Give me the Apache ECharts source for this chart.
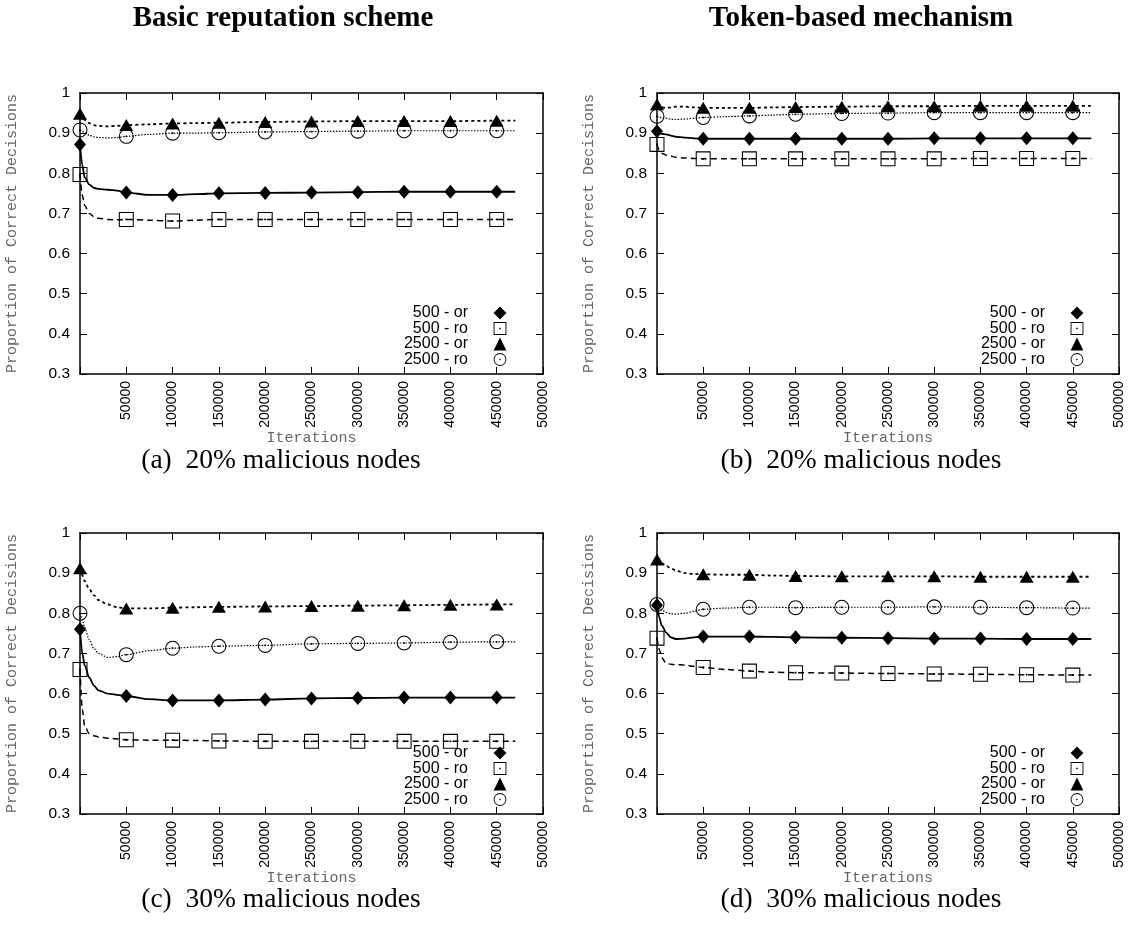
<!DOCTYPE html>
<html>
<head>
<meta charset="utf-8">
<script src="https://cdn.jsdelivr.net/npm/echarts@6.0.0/dist/echarts.min.js"></script>
<style>
  html, body { margin: 0; padding: 0; background: #fff; }
  #chart { width: 1132px; height: 942px; }
</style>
</head>
<body>
<div id="chart"></div>
<script>
// Iteration counts at which each curve was sampled
const iterations = [0, 2500, 5000, 10000, 15000, 20000, 30000, 40000, 50000, 75000,
  100000, 125000, 150000, 200000, 250000, 300000, 350000, 400000, 450000, 470000];

const seriesNames = ['500 - or', '500 - ro', '2500 - or', '2500 - ro'];
const xTicks = [0, 50000, 100000, 150000, 200000, 250000, 300000, 350000, 400000, 450000, 500000];
const yTicks = [0.3, 0.4, 0.5, 0.6, 0.7, 0.8, 0.9, 1];

// (a) Basic reputation scheme, 20% malicious nodes
const basic20_or500  = [0.872, 0.820, 0.790, 0.772, 0.764, 0.761, 0.759, 0.757, 0.752, 0.746, 0.746, 0.748, 0.750, 0.751, 0.752, 0.753, 0.754, 0.754, 0.754, 0.754];
const basic20_ro500  = [0.797, 0.745, 0.720, 0.700, 0.692, 0.688, 0.685, 0.684, 0.685, 0.683, 0.681, 0.683, 0.685, 0.685, 0.685, 0.685, 0.685, 0.685, 0.685, 0.685];
const basic20_or2500 = [0.948, 0.940, 0.933, 0.925, 0.920, 0.918, 0.917, 0.918, 0.920, 0.922, 0.924, 0.925, 0.926, 0.928, 0.929, 0.930, 0.930, 0.930, 0.931, 0.931];
const basic20_ro2500 = [0.908, 0.905, 0.900, 0.895, 0.891, 0.889, 0.888, 0.889, 0.892, 0.897, 0.900, 0.900, 0.901, 0.903, 0.904, 0.905, 0.906, 0.906, 0.906, 0.906];

// (b) Token-based mechanism, 20% malicious nodes
const token20_or500  = [0.905, 0.899, 0.898, 0.897, 0.894, 0.891, 0.889, 0.887, 0.886, 0.886, 0.886, 0.886, 0.886, 0.886, 0.886, 0.887, 0.887, 0.887, 0.887, 0.887];
const token20_ro500  = [0.872, 0.858, 0.850, 0.845, 0.843, 0.840, 0.838, 0.837, 0.836, 0.836, 0.836, 0.836, 0.836, 0.836, 0.836, 0.836, 0.837, 0.837, 0.837, 0.837];
const token20_or2500 = [0.972, 0.967, 0.964, 0.963, 0.964, 0.966, 0.966, 0.964, 0.963, 0.963, 0.963, 0.964, 0.965, 0.966, 0.967, 0.967, 0.968, 0.968, 0.968, 0.968];
const token20_ro2500 = [0.942, 0.940, 0.938, 0.937, 0.935, 0.934, 0.935, 0.937, 0.939, 0.941, 0.943, 0.945, 0.947, 0.949, 0.950, 0.951, 0.951, 0.951, 0.951, 0.951];

// (c) Basic reputation scheme, 30% malicious nodes
const basic30_or500  = [0.760, 0.700, 0.670, 0.640, 0.620, 0.608, 0.600, 0.597, 0.594, 0.586, 0.583, 0.583, 0.583, 0.585, 0.588, 0.589, 0.590, 0.590, 0.590, 0.590];
const basic30_ro500  = [0.660, 0.560, 0.520, 0.500, 0.495, 0.492, 0.489, 0.487, 0.485, 0.484, 0.484, 0.483, 0.482, 0.481, 0.481, 0.481, 0.481, 0.481, 0.481, 0.481];
const basic30_or2500 = [0.912, 0.895, 0.880, 0.860, 0.845, 0.833, 0.822, 0.815, 0.812, 0.812, 0.814, 0.815, 0.816, 0.817, 0.818, 0.819, 0.820, 0.821, 0.822, 0.822];
const basic30_ro2500 = [0.800, 0.785, 0.765, 0.735, 0.712, 0.700, 0.690, 0.692, 0.697, 0.707, 0.713, 0.716, 0.718, 0.720, 0.724, 0.725, 0.726, 0.728, 0.729, 0.729];

// (d) Token-based mechanism, 30% malicious nodes
const token30_or500  = [0.820, 0.790, 0.770, 0.752, 0.740, 0.736, 0.737, 0.740, 0.742, 0.742, 0.742, 0.741, 0.740, 0.739, 0.738, 0.737, 0.737, 0.736, 0.736, 0.736];
const token30_ro500  = [0.738, 0.710, 0.690, 0.675, 0.673, 0.672, 0.671, 0.668, 0.665, 0.660, 0.656, 0.653, 0.652, 0.651, 0.650, 0.649, 0.648, 0.647, 0.646, 0.646];
const token30_or2500 = [0.934, 0.930, 0.925, 0.918, 0.912, 0.907, 0.900, 0.898, 0.897, 0.896, 0.896, 0.894, 0.893, 0.892, 0.892, 0.892, 0.891, 0.891, 0.891, 0.891];
const token30_ro2500 = [0.822, 0.815, 0.808, 0.802, 0.799, 0.798, 0.800, 0.805, 0.810, 0.813, 0.815, 0.815, 0.814, 0.815, 0.815, 0.816, 0.815, 0.814, 0.813, 0.813];

// Open markers: outline with a hole and a centre dot (nonzero winding)
const OPEN_SQUARE = 'path://M0,0H100V100H0Z M7,7V93H93V7Z M44,44H56V56H44Z';
const OPEN_CIRCLE = 'path://M50,0A50,50,0,1,1,50,100A50,50,0,1,1,50,0Z M50,7A43,43,0,1,0,50,93A43,43,0,1,0,50,7Z M50,44A6,6,0,1,1,50,56A6,6,0,1,1,50,44Z';

const curveStyles = {
  '500 - or':  { symbol: 'diamond',  symbolSize: [12, 14], lineType: 'solid',  lineWidth: 1.8 },
  '500 - ro':  { symbol: OPEN_SQUARE, symbolSize: 15,      lineType: [6, 4],   lineWidth: 1.5 },
  '2500 - or': { symbol: 'triangle', symbolSize: [14, 12], lineType: [3, 3],   lineWidth: 1.8 },
  '2500 - ro': { symbol: OPEN_CIRCLE, symbolSize: 15,      lineType: [1.5, 1.5], lineWidth: 1.2 }
};

const panels = [
  { grid: { left: 80,  top: 93,  width: 463, height: 281 }, curves: [basic20_or500, basic20_ro500, basic20_or2500, basic20_ro2500], legendRight: 604, legendTop: 305 },
  { grid: { left: 657, top: 93,  width: 462, height: 281 }, curves: [token20_or500, token20_ro500, token20_or2500, token20_ro2500], legendRight: 27,  legendTop: 305 },
  { grid: { left: 80,  top: 533, width: 463, height: 281 }, curves: [basic30_or500, basic30_ro500, basic30_or2500, basic30_ro2500], legendRight: 604, legendTop: 745 },
  { grid: { left: 657, top: 533, width: 462, height: 281 }, curves: [token30_or500, token30_ro500, token30_or2500, token30_ro2500], legendRight: 27,  legendTop: 745 }
];

const headings = [
  { text: 'Basic reputation scheme', x: 283, y: 19 },
  { text: 'Token-based mechanism',  x: 861, y: 19 }
];
const captions = [
  { text: '(a)  20% malicious nodes', x: 281, y: 461 },
  { text: '(b)  20% malicious nodes', x: 861, y: 461 },
  { text: '(c)  30% malicious nodes', x: 281, y: 900 },
  { text: '(d)  30% malicious nodes', x: 861, y: 900 }
];

const SANS = 'Liberation Sans, Arial, sans-serif';
const MONO = 'Liberation Mono, Courier New, monospace';
const SERIF = 'Liberation Serif, Times New Roman, serif';

const frameLine = { show: true, onZero: false, lineStyle: { color: '#000', width: 1.5 } };
const innerTick = { show: true, inside: true, length: 7, lineStyle: { color: '#000', width: 1 } };
const X_MIN = xTicks[0], X_MAX = xTicks[xTicks.length - 1], X_STEP = xTicks[1] - xTicks[0];
const Y_MIN = yTicks[0], Y_MAX = yTicks[yTicks.length - 1], Y_STEP = 0.1;

const option = {
  animation: false,
  backgroundColor: '#fff',
  title: [],
  legend: [],
  grid: [],
  xAxis: [],
  yAxis: [],
  series: []
};

headings.forEach(h => option.title.push({
  text: h.text, left: h.x, top: h.y, padding: 0,
  textAlign: 'center', textVerticalAlign: 'middle',
  textStyle: { fontFamily: SERIF, fontWeight: 'bold', fontSize: 29, color: '#000' }
}));
captions.forEach(c => option.title.push({
  text: c.text, left: c.x, top: c.y, padding: 0,
  textAlign: 'center', textVerticalAlign: 'middle',
  textStyle: { fontFamily: SERIF, fontWeight: 'normal', fontSize: 27.5, color: '#000' }
}));

function pointsWithMarkers(ys) {
  return iterations.map((x, i) => {
    const marked = x % 50000 === 0 && x <= 450000;
    return marked ? [x, ys[i]] : { value: [x, ys[i]], symbol: 'none' };
  });
}

panels.forEach((p, pi) => {
  option.grid.push(Object.assign({ show: false, containLabel: false }, p.grid));

  // bottom axis with labels, top axis as mirror
  option.xAxis.push({
    type: 'value', gridIndex: pi, position: 'bottom',
    min: X_MIN, max: X_MAX, interval: X_STEP,
    axisLine: frameLine, axisTick: innerTick, splitLine: { show: false },
    axisLabel: {
      rotate: 90, margin: 7, color: '#000', fontFamily: SANS, fontSize: 14,
      formatter: v => (v === 0 ? '' : String(v))
    },
    name: 'Iterations', nameLocation: 'middle', nameGap: 57, nameMoveOverlap: false,
    nameTextStyle: { fontFamily: MONO, fontSize: 15, color: '#666' }
  });
  option.xAxis.push({
    type: 'value', gridIndex: pi, position: 'top',
    min: X_MIN, max: X_MAX, interval: X_STEP,
    axisLine: frameLine, axisTick: innerTick, splitLine: { show: false },
    axisLabel: { show: false }
  });

  option.yAxis.push({
    type: 'value', gridIndex: pi, position: 'left',
    min: Y_MIN, max: Y_MAX, interval: Y_STEP,
    axisLine: frameLine, axisTick: innerTick, splitLine: { show: false },
    axisLabel: { margin: 10, color: '#000', fontFamily: SANS, fontSize: 15.5 },
    name: 'Proportion of Correct Decisions', nameLocation: 'middle', nameGap: 60, nameRotate: 90,
    nameMoveOverlap: false,
    nameTextStyle: { fontFamily: MONO, fontSize: 15, color: '#666' }
  });
  option.yAxis.push({
    type: 'value', gridIndex: pi, position: 'right',
    min: Y_MIN, max: Y_MAX, interval: Y_STEP,
    axisLine: frameLine, axisTick: innerTick, splitLine: { show: false },
    axisLabel: { show: false }
  });

  seriesNames.forEach((name, si) => {
    const st = curveStyles[name];
    option.series.push({
      type: 'line', name: name,
      xAxisIndex: pi * 2, yAxisIndex: pi * 2,
      data: pointsWithMarkers(p.curves[si]),
      smooth: 0.3, smoothMonotone: 'x',
      showAllSymbol: true,
      symbol: st.symbol, symbolSize: st.symbolSize,
      itemStyle: { color: '#000', borderWidth: 0 },
      lineStyle: { color: '#000', width: st.lineWidth, type: st.lineType },
      emphasis: { disabled: true },
      silent: true
    });
  });

  option.legend.push({
    data: seriesNames,
    orient: 'vertical', align: 'right',
    right: p.legendRight, top: p.legendTop,
    padding: 0, itemWidth: 54, itemHeight: 16, itemGap: -0.5,
    selectedMode: false,
    lineStyle: { opacity: 0 },
    itemStyle: { borderWidth: 0 },
    textStyle: { fontFamily: SANS, fontSize: 16, color: '#000' }
  });
});

const chart = echarts.init(document.getElementById('chart'), null, { renderer: 'canvas' });
chart.setOption(option);
</script>
</body>
</html>
